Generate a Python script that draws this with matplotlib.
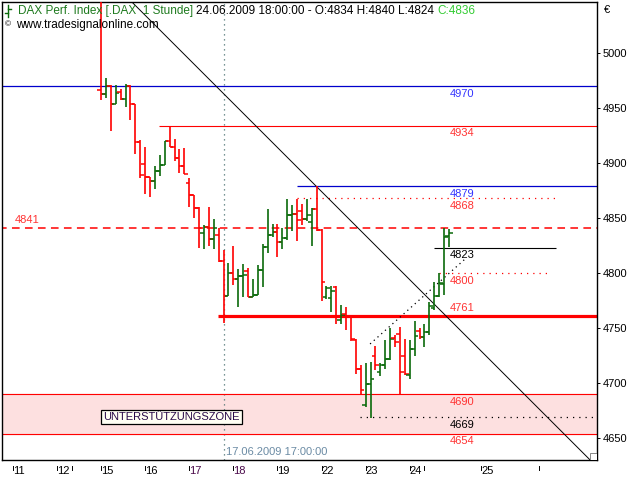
import matplotlib
matplotlib.use("Agg")
import matplotlib.pyplot as plt
import matplotlib.transforms as mtransforms
from matplotlib.patches import Rectangle
from matplotlib.lines import Line2D

plt.rcParams['font.family'] = ['Liberation Sans', 'DejaVu Sans']

# hourly OHLC bars, DAX 15.06.2009 09:00 .. 24.06.2009 17:00 (9 bars per day)
opens = [4966, 4963, 4970, 4954, 4965, 4958, 4970, 4954, 4919, 4899,
         4887, 4884, 4893, 4898, 4920, 4915, 4905, 4897, 4882, 4871,
         4859, 4836, 4842, 4831, 4835, 4811, 4779, 4800, 4795, 4797,
         4802, 4778, 4780, 4803, 4824, 4835, 4837, 4828, 4832, 4853,
         4854, 4856, 4849, 4846, 4858, 4839, 4778, 4777, 4787, 4757,
         4763, 4760, 4739, 4713, 4680, 4699, 4725, 4710, 4716, 4722,
         4741, 4745, 4725, 4707, 4731, 4747, 4742, 4746, 4768, 4779,
         4790, 4834]
highs = [5060, 4977, 4971, 4971, 4967, 4972, 4971, 4954, 4921, 4915,
         4887, 4897, 4907, 4920, 4934, 4922, 4913, 4914, 4886, 4871,
         4860, 4844, 4860, 4849, 4841, 4821, 4809, 4825, 4804, 4808,
         4805, 4795, 4807, 4826, 4858, 4845, 4845, 4841, 4867, 4862,
         4867, 4863, 4867, 4859, 4879, 4840, 4788, 4788, 4788, 4771,
         4769, 4761, 4740, 4716, 4718, 4719, 4734, 4718, 4739, 4750,
         4744, 4751, 4740, 4739, 4756, 4750, 4754, 4774, 4792, 4800,
         4841, 4840]
lows = [4957, 4959, 4929, 4954, 4957, 4951, 4939, 4908, 4886, 4872,
        4869, 4876, 4888, 4898, 4915, 4902, 4891, 4890, 4860, 4850,
        4823, 4822, 4825, 4822, 4810, 4755, 4779, 4789, 4769, 4778,
        4778, 4778, 4780, 4787, 4818, 4833, 4815, 4822, 4830, 4838,
        4829, 4844, 4847, 4825, 4838, 4775, 4776, 4765, 4754, 4754,
        4748, 4738, 4708, 4690, 4678, 4668, 4712, 4706, 4713, 4721,
        4733, 4689, 4707, 4704, 4725, 4740, 4733, 4744, 4766, 4778,
        4780, 4824]
closes = [4963, 4970, 4954, 4964, 4958, 4970, 4954, 4919, 4889, 4887,
          4884, 4893, 4898, 4920, 4915, 4905, 4897, 4890, 4871, 4859,
          4841, 4842, 4831, 4841, 4811, 4779, 4800, 4795, 4797, 4798,
          4778, 4780, 4803, 4824, 4835, 4837, 4828, 4832, 4853, 4854,
          4848, 4849, 4853, 4858, 4839, 4792, 4786, 4784, 4760, 4762,
          4760, 4740, 4713, 4694, 4699, 4704, 4716, 4716, 4722, 4740,
          4737, 4710, 4708, 4731, 4743, 4742, 4746, 4770, 4779, 4791,
          4833, 4836]

day_labels = ['11', '12', '15', '16', '17', '18', '19', '22', '23', '24', '25']
day_ticks = [-18, -9, 0, 9, 18, 27, 36, 45, 54, 63, 77.6]
extra_ticks = [-6, 66, 89.4]

# horizontal levels: value, colour, style, width, start, end
levels = [
    (4970, '#0000cc', '-', 0.9, -21, 102),
    (4934, '#ff0000', '-', 0.8, 11.8, 102),
    (4879, '#0000cc', '-', 0.9, 40, 102),
    (4868, '#ff0000', (0, (1, 4)), 0.9, 40, 92.7),
    (4841, '#ff0000', (0, (5, 3.5)), 1.1, -21, 102),
    (4823, '#000000', '-', 0.8, 68, 92.9),
    (4800, '#ff0000', (0, (1, 4)), 0.9, 69, 91.6),
    (4761, '#ff0000', '-', 2.3, 23.9, 102),
    (4690, '#ff0000', '-', 0.8, -21, 102),
    (4669, '#000000', (0, (1, 4)), 0.9, 52.9, 102),
    (4654, '#ff0000', '-', 0.8, -21, 102),
]
# level labels: text, value, colour, above line?
level_labels = [
    ('4970', 4970, '#3333ff', False), ('4934', 4934, '#ff3333', False),
    ('4879', 4879, '#3333ff', False), ('4868', 4868, '#ff3333', False),
    ('4823', 4823, '#000000', False), ('4800', 4800, '#ff3333', False),
    ('4761', 4761, '#ff3333', True), ('4690', 4690, '#ff3333', False),
    ('4669', 4669, '#000000', False), ('4654', 4654, '#ff3333', False),
]
trend_x = [6.3, 99.8]
trend_y = [5046.4, 4630]
support_x = [54.9, 74.5]
support_y = [4735.5, 4813.6]
marker_bar = 25

fig = plt.figure(figsize=(6.4, 4.8), dpi=100)
ax = fig.add_axes([2 / 640, 20 / 480, 595 / 640, 458 / 480])
ax.set_xlim(-20.2, 101.2)
ax.set_ylim(4630, 5046.4)

# support zone
ax.axhspan(4654, 4690, color='#fde0e0', zorder=0)
for val, col, ls, lw, x0, x1 in levels:
    ax.hlines(val, x0, x1, colors=col, linestyles=ls, linewidth=lw, zorder=2)

# vertical marker
ax.axvline(marker_bar, color='#4a7070', linestyle=(0, (1, 3)), linewidth=0.9, zorder=1)
ax.text(marker_bar + 0.5, 4637, '17.06.2009 17:00:00', color='#6b8ba4', fontsize=8,
        ha='left', va='center')

# trend lines
ax.plot(trend_x, trend_y, color='black', linewidth=0.7, zorder=3)
ax.plot(support_x, support_y, color='black', linestyle=(0, (1, 3)), linewidth=0.9, zorder=3)

# OHLC bars
w = 0.75
for i in range(len(opens)):
    c = '#0a6a0a' if closes[i] > opens[i] else '#ff0000'
    ax.vlines(i, lows[i], highs[i], colors=c, linewidth=1.2, zorder=4)
    ax.hlines(opens[i], i - w, i, colors=c, linewidth=1.1, zorder=4)
    ax.hlines(closes[i], i, i + w, colors=c, linewidth=1.1, zorder=4)

for txt, val, col, above in level_labels:
    ax.annotate(txt, xy=(71.2, val), xytext=(0, 2 if above else -2),
                textcoords='offset points', color=col, fontsize=8,
                ha='left', va='bottom' if above else 'top')
ax.annotate('4841', xy=(-17.7, 4841), xytext=(0, 2), textcoords='offset points',
            color='#ff3333', fontsize=8, ha='left', va='bottom')

ax.text(14.3, 4669, 'UNTERSTÜTZUNGSZONE', color='#2a0a4a', fontsize=8,
        ha='center', va='center',
        bbox=dict(boxstyle='square,pad=0.2', facecolor='#fffff4', edgecolor='black', linewidth=0.9))

# small corner box
ax.add_patch(Rectangle((0.988, 0.0), 0.012, 0.016, transform=ax.transAxes,
                       facecolor='white', edgecolor='#888888', linewidth=0.7, zorder=5))

# axes styling
for s in ax.spines.values():
    s.set_linewidth(1.0)
    s.set_color('black')
ax.yaxis.tick_right()
ax.set_yticks(range(4650, 5001, 50))
ax.tick_params(axis='y', length=2.5, width=0.7, pad=1.5, labelsize=8, colors='black')

ax.set_xticks(day_ticks)
ax.set_xticklabels(day_labels)
ax.tick_params(axis='x', length=0, pad=4, labelsize=8)
for lab in ax.get_xticklabels():
    lab.set_horizontalalignment('left')
    if lab.get_text() in ('17', '18'):
        lab.set_color('#4b0a4b')
trans = mtransforms.blended_transform_factory(ax.transData, ax.transAxes)
for t in day_ticks + extra_ticks:
    ax.plot([t, t], [-6 / 458, -10 / 458], color='black', linewidth=0.7,
            transform=trans, clip_on=False)

# header texts
fig.text(604 / 640, 1 - 10 / 480, '€', fontsize=8, ha='left', va='center')
fig.add_artist(Line2D([8 / 640, 8 / 640], [1 - 5 / 480, 1 - 17 / 480], color='#0a6a0a', linewidth=1))
fig.add_artist(Line2D([5 / 640, 8 / 640], [1 - 13 / 480, 1 - 13 / 480], color='#0a6a0a', linewidth=1))
fig.add_artist(Line2D([8 / 640, 11 / 640], [1 - 9 / 480, 1 - 9 / 480], color='#0a6a0a', linewidth=1))

fig.canvas.draw()
r = fig.canvas.get_renderer()
parts = [('DAX Perf. Index [.DAX  1 Stunde]', '#1e7a1e'),
         ('24.06.2009 18:00:00 - O:4834 H:4840 L:4824', '#000000'),
         ('C:4836', '#33cc33')]
xpos = 18
for s, c in parts:
    t = fig.text(xpos / 640, 1 - 11 / 480, s, color=c, fontsize=8.5, ha='left', va='center')
    bb = t.get_window_extent(renderer=r)
    xpos = bb.x1 + 3
fig.text(5 / 640, 1 - 25 / 480, '©', fontsize=6, ha='left', va='center')
fig.text(16 / 640, 1 - 25 / 480, 'www.tradesignalonline.com', fontsize=8.5, ha='left', va='center')

fig.savefig('out.png', dpi=100)
